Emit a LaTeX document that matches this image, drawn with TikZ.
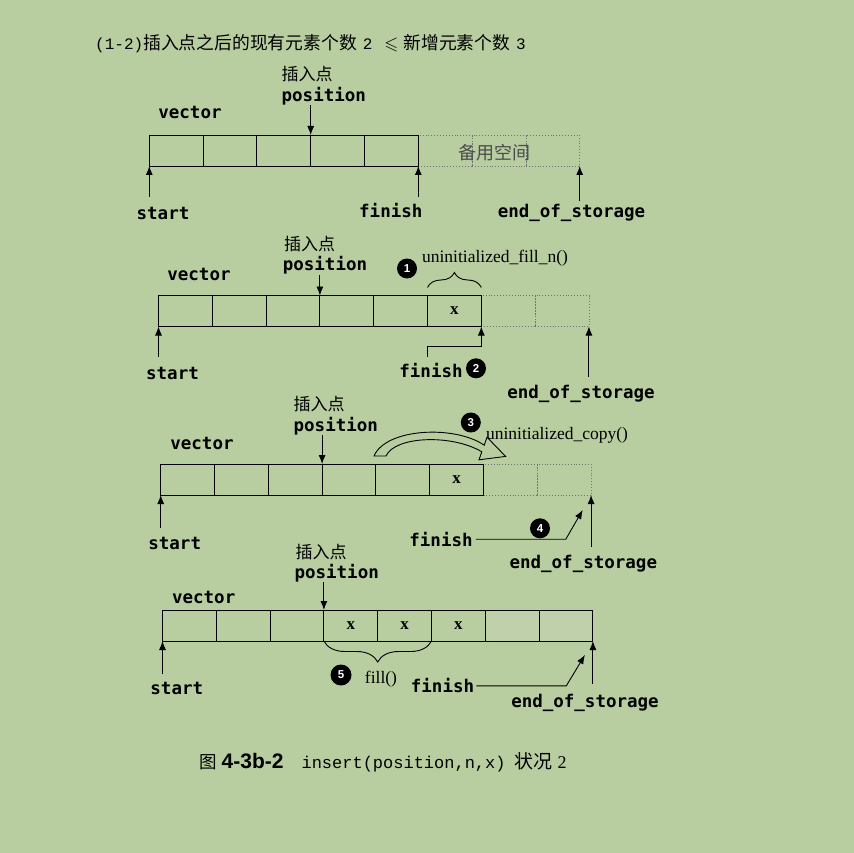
\documentclass[tikz,border=0pt]{standalone}
\usepackage{amssymb}
\usepackage{fontspec}
\setmainfont{Liberation Serif}
\setmonofont{DejaVu Sans Mono}
\newfontfamily\cjk{Noto Sans CJK SC}
\newfontfamily\courfont{Liberation Mono}
\newfontfamily\helvfont{Liberation Sans}
\definecolor{Paper}{RGB}{184, 205, 160}
\definecolor{Shade}{RGB}{191, 208, 170}
\usetikzlibrary{arrows.meta, positioning, decorations.pathreplacing, calc}

\begin{document}
\begin{tikzpicture}[
    x=1pt, y=-1pt,
    cell/.style={draw, line width=0.9pt, minimum width=53.8pt, minimum height=31pt,
                 inner sep=0pt, outer sep=0pt, anchor=north west},
    spare/.style={cell, draw=black!55, dotted, line width=0.6pt},
    used/.style={cell, fill=Shade},
    lbl/.style={inner sep=0pt, font=\ttfamily\bfseries\fontsize{17.5}{18}\selectfont},
    cjklbl/.style={inner sep=0pt, font=\cjk\fontsize{17}{17}\selectfont},
    fn/.style={inner sep=0pt, font=\fontsize{17.5}{18}\selectfont},
    xval/.style={inner sep=0pt, font=\bfseries\fontsize{17}{17}\selectfont},
    num/.style={circle, fill=black, text=white, minimum size=20pt, inner sep=0pt,
                font=\helvfont\bfseries\fontsize{11.5}{11.5}\selectfont},
    ptr/.style={-{Latex[length=9pt, width=7pt]}, line width=0.9pt},
    brc/.style={decorate, decoration={brace, amplitude=#1}, line width=0.9pt}
]
    \fill[Paper] (0,0) rectangle (854,853);

    \node[anchor=west, inner sep=0pt] (title) at (95,44)
        {{\courfont\fontsize{16}{16}\selectfont (1-2)}{\cjk\fontsize{17.8}{18}\selectfont 插入点之后的现有元素个数}\hspace{6pt}{\courfont\fontsize{16}{16}\selectfont 2}\hspace{12pt}{\fontsize{18}{18}\selectfont$\leqslant$}\hspace{5pt}{\cjk\fontsize{17.8}{18}\selectfont 新增元素个数}\hspace{6pt}{\courfont\fontsize{16}{16}\selectfont 3}};

    % (1) before
    \foreach \i in {6,7,8} \node[spare] (a\i) at ({149.3+(\i-1)*53.8},135) {};
    \foreach \i in {1,...,5} \node[cell] (a\i) at ({149.3+(\i-1)*53.8},135) {};
    \node[cjklbl, text=black!70, font=\cjk\fontsize{18}{18}\selectfont] (spare1) at (494,152.5) {备用空间};
    \node[lbl] (vec1) at (190,112.3) {vector};
    \node[cjklbl] (ins1) at (307.2,74) {插入点};
    \node[lbl] (pos1) at (323.8,95.8) {position};
    \node[lbl] (st1) at (163,213.3) {start};
    \node[lbl] (fin1) at (390.8,210.8) {finish};
    \node[lbl] (eos1) at (571.5,212.5) {end\_of\_storage};
    \draw[ptr] (pos1.south -| a4.north west) -- (a4.north west);
    \draw[ptr] ([yshift=10pt]st1.north -| a1.south west) -- (a1.south west);
    \draw[ptr] ([yshift=6pt]fin1.north -| a5.south east) -- (a5.south east);
    \draw[ptr] ([yshift=3pt]eos1.north -| a8.south east) -- (a8.south east);

    % (2) fill_n
    \foreach \i in {7,8} \node[spare] (b\i) at ({158.5+(\i-1)*53.8},295.5) {};
    \foreach \i in {1,...,6} \node[cell] (b\i) at ({158.5+(\i-1)*53.8},295.5) {};
    \node[xval] (x2) at (b6) {x};
    \node[lbl] (vec2) at (199,274) {vector};
    \node[cjklbl] (ins2) at (309.5,244) {插入点};
    \node[lbl] (pos2) at (325,265.5) {position};
    \node[lbl] (st2) at (172.5,373) {start};
    \node[lbl] (fin2) at (431,370.8) {finish};
    \node[lbl] (eos2) at (581,394) {end\_of\_storage};
    \node[num] (n1) at (407,268.5) {1};
    \node[fn] (filln) at (495,258.3) {uninitialized\_fill\_n()};
    \node[num] (n2) at (476,368.3) {2};
    \draw[brc=15pt] ([yshift=8pt]b6.north west) -- ([yshift=8pt]b6.north east);
    \draw[ptr] (pos2.south -| b4.north west) -- (b4.north west);
    \draw[ptr] ([yshift=10pt]st2.north -| b1.south west) -- (b1.south west);
    \draw[ptr] ([yshift=-30pt]b6.south west) -- ([yshift=-20pt]b6.south west) -| (b6.south east);
    \draw[ptr] ([yshift=8pt]eos2.north -| b8.south east) -- (b8.south east);

    % (3) copy
    \foreach \i in {7,8} \node[spare] (c\i) at ({160.7+(\i-1)*53.8},464) {};
    \foreach \i in {1,...,6} \node[cell] (c\i) at ({160.7+(\i-1)*53.8},464) {};
    \node[xval] (x3) at (c6) {x};
    \node[lbl] (vec3) at (202,443.3) {vector};
    \node[cjklbl] (ins3) at (319,404) {插入点};
    \node[lbl] (pos3) at (335.8,425.8) {position};
    \node[lbl] (st3) at (174.7,543) {start};
    \node[lbl] (fin3) at (441,539.2) {finish};
    \node[lbl] (eos3) at (583.3,564) {end\_of\_storage};
    \node[num] (n3) at (470.8,422.5) {3};
    \node[fn] (copy) at (557,435) {uninitialized\_copy()};
    \draw[line width=0.9pt, fill=Paper] (374,456) .. controls (386,428) and (455,425) .. (484.2,445.2)
        -- (487,437.2) -- (505.6,456.4) -- (479,459.8) -- (481.8,451.8)
        .. controls (452,434) and (395,436) .. (386,456) -- cycle;
    \draw[ptr] (pos3.south -| c4.north west) -- (c4.north west);
    \draw[ptr] ([yshift=9pt]st3.north -| c1.south west) -- (c1.south west);
    \draw[ptr] ([yshift=8pt]eos3.north -| c8.south east) -- (c8.south east);
    \draw[ptr] ([xshift=3pt]fin3.east) -- ++(90,0) -- ([xshift=-8.4pt, yshift=-15pt]c8.south east);
    \node[num] (n4) at (540,528.3) {4};

    % (4) fill
    \foreach \i in {1,...,6} \node[cell] (d\i) at ({162.5+(\i-1)*53.8},610) {};
    \foreach \i in {7,8} \node[used] (d\i) at ({162.5+(\i-1)*53.8},610) {};
    \foreach \i in {4,5,6} \node[xval] (x4\i) at (d\i) {x};
    \node[lbl] (vec4) at (203.7,597) {vector};
    \node[cjklbl] (ins4) at (321,552.5) {插入点};
    \node[lbl] (pos4) at (336.7,573.3) {position};
    \node[lbl] (st4) at (176.8,688.8) {start};
    \node[lbl] (fin4) at (442.5,685.8) {finish};
    \node[lbl] (eos4) at (585,702.5) {end\_of\_storage};
    \node[num, minimum size=21pt] (n5) at (341,675) {5};
    \node[fn] (fill) at (381,679) {fill()};
    \draw[brc=21pt] (d5.south east) -- (d4.south west);
    \draw[ptr] (pos4.south -| d4.north west) -- (d4.north west);
    \draw[ptr] ([yshift=8pt]st4.north -| d1.south west) -- (d1.south west);
    \draw[ptr] ([yshift=10pt]eos4.north -| d8.south east) -- (d8.south east);
    \draw[ptr] ([xshift=2pt]fin4.east) -- ++(90,0) -- ([xshift=-8pt, yshift=-14pt]d8.south east);

    \node[anchor=west, inner sep=0pt] (caption) at (199,762)
        {{\cjk\fontsize{17.5}{18}\selectfont 图}\hspace{5pt}{\helvfont\bfseries\fontsize{21}{21}\selectfont 4-3b-2}\hspace{18pt}{\courfont\fontsize{17}{17}\selectfont insert(position,n,x)}\hspace{9pt}{\cjk\fontsize{19}{19}\selectfont 状况}\hspace{5pt}{\fontsize{18}{18}\selectfont 2}};
\end{tikzpicture}
\end{document}
